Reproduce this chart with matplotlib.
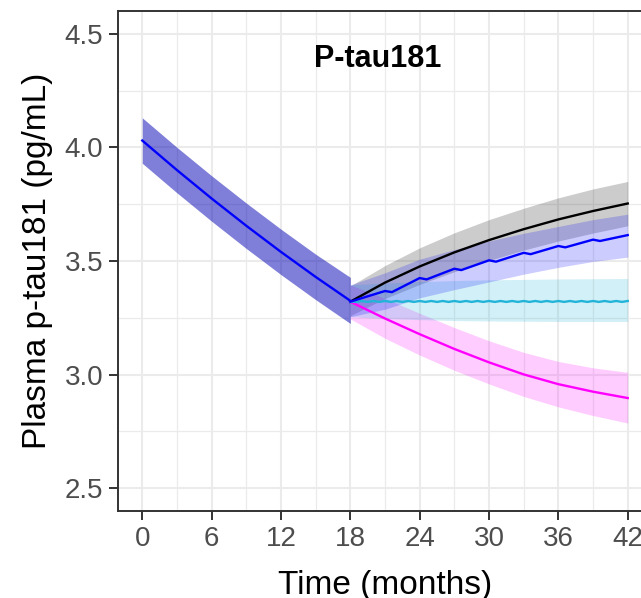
import matplotlib
matplotlib.use("Agg")
import matplotlib.pyplot as plt
from matplotlib.ticker import MultipleLocator, FixedLocator

plt.rcParams['font.family'] = ['Liberation Sans', 'DejaVu Sans']

# ---------------- data ----------------
# shared phase (0-18 months)
t_pre = [0, 3, 6, 9, 12, 15, 18]
pre_mean = [4.030, 3.900, 3.775, 3.655, 3.540, 3.430, 3.325]
pre_upper = [4.130, 4.000, 3.875, 3.755, 3.640, 3.530, 3.428]
pre_lower = [3.930, 3.800, 3.675, 3.555, 3.440, 3.330, 3.225]

# scenarios after 18 months
t_post = [18, 21, 24, 27, 30, 33, 36, 39, 42]

black_mean = [3.321, 3.405, 3.476, 3.538, 3.592, 3.640, 3.683, 3.720, 3.753]
black_upper = [3.390, 3.480, 3.558, 3.624, 3.682, 3.732, 3.778, 3.817, 3.850]
black_lower = [3.260, 3.335, 3.397, 3.453, 3.502, 3.548, 3.588, 3.623, 3.655]

blue_upper = [3.395, 3.448, 3.508, 3.550, 3.588, 3.622, 3.652, 3.682, 3.706]
blue_lower = [3.255, 3.288, 3.338, 3.374, 3.408, 3.442, 3.472, 3.498, 3.517]
blue_t = [18, 21, 21.6, 24, 24.6, 27, 27.6, 30, 30.6, 33, 33.6, 36, 36.6, 39, 39.6, 42]
blue_mean = [3.321, 3.368, 3.363, 3.425, 3.419, 3.466, 3.460, 3.503, 3.497,
             3.536, 3.530, 3.566, 3.560, 3.594, 3.588, 3.614]

cyan_upper = [3.395, 3.403, 3.409, 3.414, 3.417, 3.419, 3.421, 3.422, 3.423]
cyan_lower = [3.255, 3.247, 3.242, 3.238, 3.236, 3.235, 3.234, 3.234, 3.234]
cyan_t = [18, 18.5, 19, 19.5, 20, 20.5, 21, 21.5, 22, 22.5, 23, 23.5, 24, 24.5,
          25, 25.5, 26, 26.5, 27, 27.5, 28, 28.5, 29, 29.5, 30, 30.5, 31, 31.5,
          32, 32.5, 33, 33.5, 34, 34.5, 35, 35.5, 36, 36.5, 37, 37.5, 38, 38.5,
          39, 39.5, 40, 40.5, 41, 41.5, 42]
cyan_mean = [3.321, 3.320, 3.324, 3.320, 3.324, 3.320, 3.324, 3.320, 3.324,
             3.320, 3.324, 3.320, 3.324, 3.320, 3.324, 3.320, 3.324, 3.320,
             3.324, 3.320, 3.324, 3.320, 3.324, 3.320, 3.324, 3.320, 3.324,
             3.320, 3.324, 3.320, 3.324, 3.320, 3.324, 3.320, 3.324, 3.320,
             3.324, 3.320, 3.324, 3.320, 3.324, 3.320, 3.324, 3.320, 3.324,
             3.320, 3.324, 3.320, 3.324]

magenta_mean = [3.321, 3.247, 3.178, 3.113, 3.054, 3.001, 2.958, 2.925, 2.897]
magenta_upper = [3.395, 3.335, 3.270, 3.207, 3.149, 3.098, 3.058, 3.030, 3.010]
magenta_lower = [3.245, 3.160, 3.086, 3.019, 2.959, 2.904, 2.858, 2.820, 2.787]

x_ticks = [0, 6, 12, 18, 24, 30, 36, 42]
y_ticks = [2.5, 3.0, 3.5, 4.0, 4.5]
title = "P-tau181"
x_label = "Time (months)"
y_label = "Plasma p-tau181 (pg/mL)"

# ---------------- colours ----------------
c_black = "#000000"
c_blue = "#0000FF"
c_cyan = "#22B4D8"
c_magenta = "#FF00FF"

# ---------------- figure ----------------
W, H = 641, 598
fig = plt.figure(figsize=(W / 100, H / 100), dpi=100)
L, R, T, B = 118, 652, 11, 511
ax = fig.add_axes([L / W, 1 - B / H, (R - L) / W, (B - T) / H])
ax.set_xlim(-2.1, 44.1)
ax.set_ylim(2.4, 4.6)

# bands
a = 0.2
ax.fill_between(t_post, black_lower, black_upper, color=c_black, alpha=0.2, lw=0, zorder=2)
ax.fill_between(t_post, magenta_lower, magenta_upper, color=c_magenta, alpha=a, lw=0, zorder=2)
ax.fill_between(t_post, cyan_lower, cyan_upper, color=c_cyan, alpha=a, lw=0, zorder=2)
ax.fill_between(t_post, blue_lower, blue_upper, color=c_blue, alpha=a, lw=0, zorder=2)
ax.fill_between(t_pre, pre_lower, pre_upper, color="#0000B4", alpha=0.5, lw=0, zorder=2.5)

# lines
lw = 1.7
ax.plot(t_post, black_mean, color=c_black, lw=lw, zorder=3)
ax.plot(t_post, magenta_mean, color=c_magenta, lw=lw, zorder=3)
ax.plot(cyan_t, cyan_mean, color=c_cyan, lw=lw, zorder=3)
ax.plot(blue_t, blue_mean, color=c_blue, lw=lw, zorder=3.2)
ax.plot(t_pre, pre_mean, color=c_blue, lw=lw, zorder=3.3)

# grid & ticks
ax.xaxis.set_major_locator(FixedLocator(x_ticks))
ax.yaxis.set_major_locator(FixedLocator(y_ticks))
ax.xaxis.set_minor_locator(MultipleLocator(3))
ax.yaxis.set_minor_locator(MultipleLocator(0.25))
ax.set_axisbelow(True)
ax.grid(which="major", color="#EBEBEB", lw=1.5)
ax.grid(which="minor", color="#EBEBEB", lw=0.9)
ax.tick_params(which="minor", length=0)
ax.tick_params(which="major", length=6.5, width=1.4, color="#333333",
               labelsize=20, labelcolor="#4D4D4D", pad=4)
ax.set_xticklabels([str(v) for v in x_ticks])
ax.set_yticklabels([f"{v:.1f}" for v in y_ticks])

for s in ["left", "bottom", "top", "right"]:
    ax.spines[s].set_color("#333333")
    ax.spines[s].set_linewidth(1.4)

ax.text(20.4, 4.354, title, ha="center", va="baseline", fontsize=22,
        fontweight="bold", color="black")

fig.text(385 / W, 1 - 594 / H, x_label, ha="center", va="baseline", fontsize=24)
fig.text(38 / W, 1 - 261 / H, y_label, ha="center", va="center", rotation=90, fontsize=24)

fig.savefig("out.png", dpi=100)
